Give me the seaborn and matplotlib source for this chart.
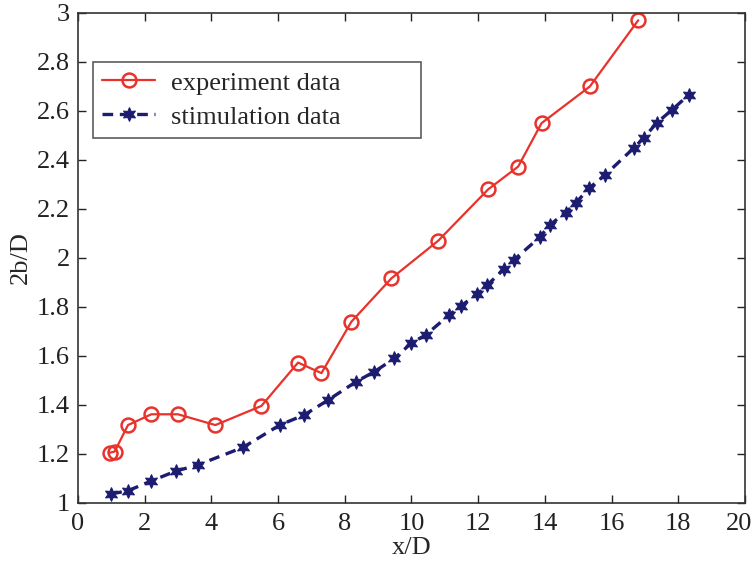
import numpy as np
import pandas as pd
import matplotlib
matplotlib.use("Agg")
import matplotlib.pyplot as plt
import matplotlib.transforms as mtransforms
import seaborn as sns

# data
exp_x = [0.95, 1.1, 1.5, 2.2, 3.0, 4.12, 5.5, 6.6, 7.3, 8.2, 9.4, 10.8, 12.3, 13.2, 13.9, 15.35, 16.8]
exp_y = [1.205, 1.21, 1.318, 1.362, 1.362, 1.318, 1.396, 1.573, 1.53, 1.74, 1.917, 2.07, 2.28, 2.373, 2.55, 2.70, 2.97]

sim_x = [1.0, 1.5, 2.2, 2.93, 3.59, 4.95, 6.05, 6.78, 7.5, 8.34, 8.89, 9.49, 9.99, 10.43,
         11.13, 11.48, 11.98, 12.28, 12.77, 13.07, 13.85, 14.15, 14.62, 14.92, 15.32,
         15.81, 16.66, 16.96, 17.36, 17.81, 18.31]
sim_y = [1.037, 1.05, 1.09, 1.13, 1.155, 1.227, 1.318, 1.359, 1.42, 1.495, 1.536, 1.59,
         1.652, 1.686, 1.767, 1.804, 1.853, 1.89, 1.954, 1.992, 2.085, 2.135, 2.185,
         2.223, 2.284, 2.339, 2.448, 2.489, 2.552, 2.604, 2.665]

sns.set_style("ticks")
plt.rcParams['font.family'] = ['Liberation Serif', 'DejaVu Serif']

fig = plt.figure(figsize=(7.54, 5.62), dpi=100)
ax = fig.add_axes([0.1034, 0.105, 0.8846, 0.872])

red = "#e8322c"
navy = "#1c1c70"
fs = 19

sns.lineplot(x=exp_x, y=exp_y, ax=ax, sort=False, color=red, lw=1.6,
             marker='o', markersize=10, markerfacecolor='none',
             markeredgecolor=red, markeredgewidth=1.8, label="experiment data")
sns.lineplot(x=sim_x, y=sim_y, ax=ax, sort=False, color=navy, lw=2.4,
             linestyle=(0, (3.2, 2.0)), marker=(6, 1, 0), markersize=10,
             markerfacecolor=navy, markeredgecolor=navy, label="stimulation data")

ax.set_xlim(0, 20)
ax.set_ylim(1, 3)
ax.set_xticks(np.arange(0, 21, 2))
ax.set_yticks(np.arange(1, 3.01, 0.2))
ax.set_yticklabels(["1", "1.2", "1.4", "1.6", "1.8", "2", "2.2", "2.4", "2.6", "2.8", "3"])
ax.tick_params(direction='in', top=True, right=True, length=6, width=1,
               labelsize=fs, colors='#222222')
ax.tick_params(axis='x', pad=7)
ax.tick_params(axis='y', pad=6)
for s in ax.spines.values():
    s.set_color('#333333')
    s.set_linewidth(1.2)

ax.set_xlabel("x/D", fontsize=fs, labelpad=2)
ax.set_ylabel("2b/D", fontsize=fs, labelpad=3)

# legend box stretched to the right like the original
leg = ax.legend(loc='upper left', bbox_to_anchor=(0.0225, 0.751, 0.492, 0.149),
                mode='expand', fontsize=fs, frameon=True, fancybox=False,
                edgecolor='#333333', handlelength=2.0, handletextpad=0.6,
                borderpad=0.35, labelspacing=0.4, borderaxespad=0)
leg.get_frame().set_linewidth(1.2)

# last x tick label nudged left so it stays inside the image
fig.canvas.draw()
last = ax.xaxis.get_major_ticks()[-1].label1
last.set_transform(last.get_transform() +
                   mtransforms.ScaledTranslation(-4 / 72, 0, fig.dpi_scale_trans))

fig.savefig("out.png", dpi=100)
